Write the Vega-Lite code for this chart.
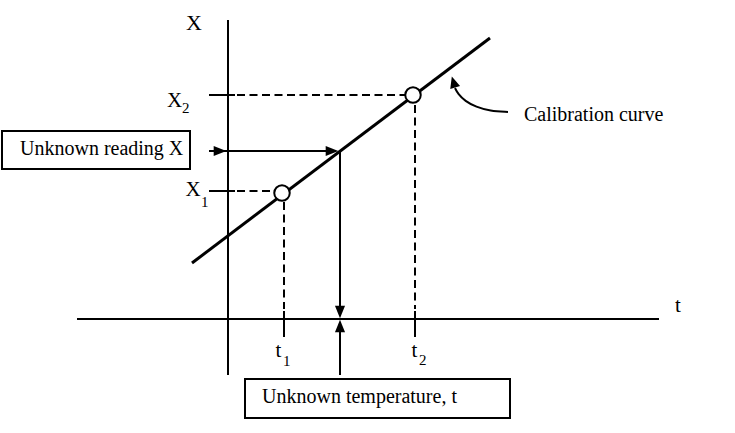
{
  "$schema": "https://vega.github.io/schema/vega-lite/v6.json",
  "width": 735,
  "height": 433,
  "padding": 0,
  "autosize": {"type": "none"},
  "config": {"view": {"stroke": null}},
  "encoding": {
    "x": {"field": "t", "type": "quantitative", "axis": null, "scale": {"domain": [-228, 507], "nice": false, "zero": false}},
    "y": {"field": "X", "type": "quantitative", "axis": null, "scale": {"domain": [-114, 319], "nice": false, "zero": false}}
  },
  "layer": [
    {
      "data": {"values": [
        {"t": 0, "X": 299, "t2": 0, "X2": -56},
        {"t": -151, "X": 0, "t2": 431, "X2": 0},
        {"t": -19, "X": 224, "t2": 7, "X2": 224},
        {"t": -19, "X": 128, "t2": 7, "X2": 128},
        {"t": 56, "X": 8, "t2": 56, "X2": -18},
        {"t": 187, "X": 8, "t2": 187, "X2": -18},
        {"t": -19, "X": 168, "t2": 104, "X2": 168},
        {"t": 112, "X": 168, "t2": 112, "X2": 7},
        {"t": 112, "X": -56, "t2": 112, "X2": -7}
      ]},
      "mark": {"type": "rule", "strokeWidth": 2, "color": "black"},
      "encoding": {"x2": {"field": "t2"}, "y2": {"field": "X2"}}
    },
    {
      "data": {"values": [{"t": -36, "X": 56, "t2": 262, "X2": 281}]},
      "mark": {"type": "rule", "strokeWidth": 3, "color": "black"},
      "encoding": {"x2": {"field": "t2"}, "y2": {"field": "X2"}}
    },
    {
      "data": {"values": [
        {"t": 9, "X": 224, "t2": 177, "X2": 224},
        {"t": 9, "X": 128, "t2": 46, "X2": 128},
        {"t": 56, "X": 117, "t2": 56, "X2": 10},
        {"t": 187, "X": 214, "t2": 187, "X2": 10}
      ]},
      "mark": {"type": "rule", "strokeWidth": 2, "color": "black", "strokeDash": [8, 4.5]},
      "encoding": {"x2": {"field": "t2"}, "y2": {"field": "X2"}}
    },
    {
      "data": {"values": [
        {"t": 280, "X": 207, "o": 1},
        {"t": 262, "X": 208, "o": 2},
        {"t": 248, "X": 212, "o": 3},
        {"t": 237, "X": 218, "o": 4},
        {"t": 230, "X": 225, "o": 5},
        {"t": 227, "X": 231, "o": 6}
      ]},
      "mark": {"type": "line", "strokeWidth": 2, "color": "black", "interpolate": "basis"},
      "encoding": {"order": {"field": "o", "type": "quantitative"}}
    },
    {
      "data": {"values": [{"t": 185, "X": 224}, {"t": 54, "X": 126}]},
      "mark": {"type": "point", "shape": "circle", "size": 240, "filled": false, "fill": "white", "fillOpacity": 1, "stroke": "black", "strokeWidth": 2, "opacity": 1}
    },
    {
      "data": {"values": [{"t": -8, "X": 168}, {"t": 104, "X": 168}]},
      "mark": {"type": "point", "shape": "M-1,-0.8L1,0L-1,0.8Z", "size": 160, "filled": true, "color": "black", "opacity": 1, "angle": 0}
    },
    {
      "data": {"values": [{"t": 112, "X": 7}]},
      "mark": {"type": "point", "shape": "M-1,-0.8L1,0L-1,0.8Z", "size": 160, "filled": true, "color": "black", "opacity": 1, "angle": 90}
    },
    {
      "data": {"values": [{"t": 112, "X": -7}]},
      "mark": {"type": "point", "shape": "M-1,-0.8L1,0L-1,0.8Z", "size": 160, "filled": true, "color": "black", "opacity": 1, "angle": 270}
    },
    {
      "data": {"values": [{"t": 225.5, "X": 237}]},
      "mark": {"type": "point", "shape": "M-1,-0.9L1,0L-1,0.9Z", "size": 130, "filled": true, "color": "black", "opacity": 1, "angle": 253}
    },
    {
      "data": {"values": [
        {"t": -226, "X": 188, "t2": -38, "X2": 150},
        {"t": 17, "X": -60, "t2": 282, "X2": -99}
      ]},
      "mark": {"type": "rect", "fill": "white", "stroke": "black", "strokeWidth": 2},
      "encoding": {"x2": {"field": "t2"}, "y2": {"field": "X2"}}
    },
    {
      "data": {"values": [
        {"t": -208, "X": 164, "label": "Unknown reading X"},
        {"t": 296, "X": 198, "label": "Calibration curve"},
        {"t": 34, "X": -84, "label": "Unknown temperature, t"}
      ]},
      "mark": {"type": "text", "font": "Liberation Serif", "color": "black", "fontSize": 20, "align": "left", "baseline": "alphabetic"},
      "encoding": {"text": {"field": "label"}}
    },
    {
      "data": {"values": [
        {"t": -34, "X": 289, "label": "X"}
      ]},
      "mark": {"type": "text", "font": "Liberation Serif", "color": "black", "fontSize": 22, "align": "center", "baseline": "alphabetic"},
      "encoding": {"text": {"field": "label"}}
    },
    {
      "data": {"values": [
        {"t": -53.5, "X": 212, "label": "X"},
        {"t": -35, "X": 123, "label": "X"},
        {"t": 450, "X": 7, "label": "t"},
        {"t": 50.5, "X": -38, "label": "t"},
        {"t": 186.5, "X": -38, "label": "t"}
      ]},
      "mark": {"type": "text", "font": "Liberation Serif", "color": "black", "fontSize": 21, "align": "center", "baseline": "alphabetic"},
      "encoding": {"text": {"field": "label"}}
    },
    {
      "data": {"values": [
        {"t": -46, "X": 206, "label": "2"},
        {"t": -27, "X": 112, "label": "1"},
        {"t": 55, "X": -47, "label": "1"},
        {"t": 191, "X": -46, "label": "2"}
      ]},
      "mark": {"type": "text", "font": "Liberation Serif", "color": "black", "fontSize": 15, "align": "left", "baseline": "alphabetic"},
      "encoding": {"text": {"field": "label"}}
    }
  ]
}
